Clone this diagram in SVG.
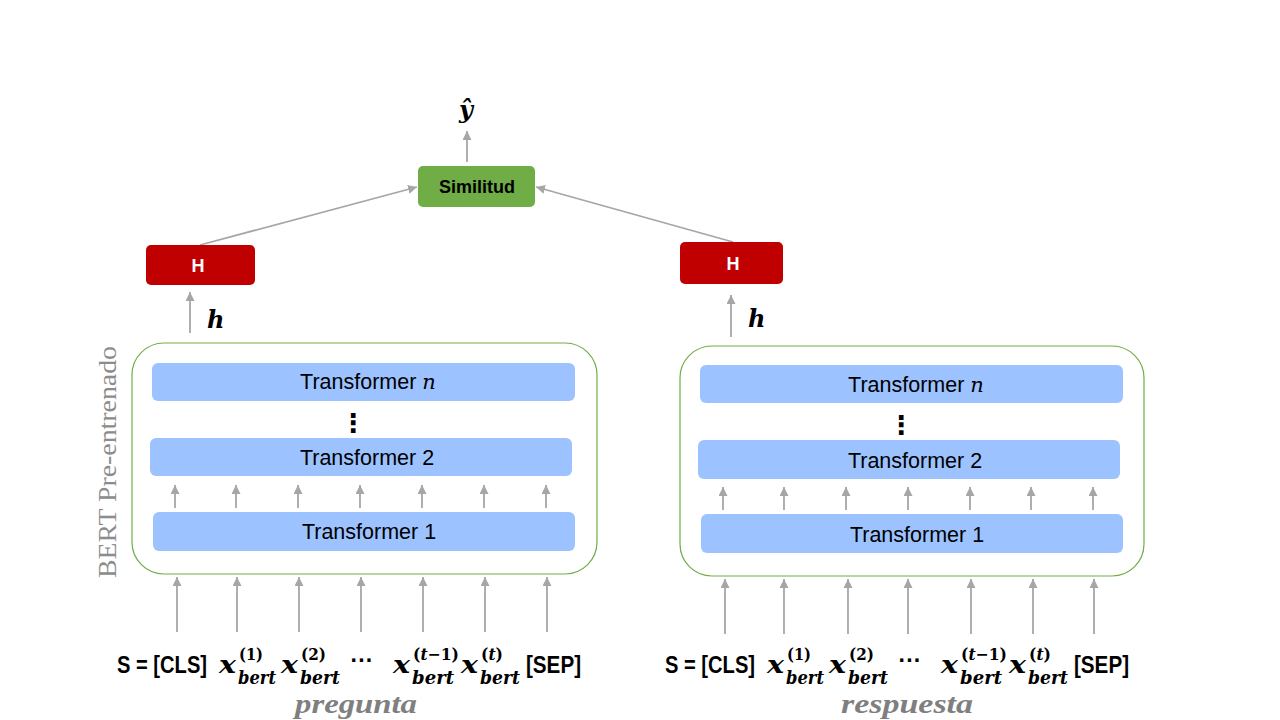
<svg xmlns="http://www.w3.org/2000/svg" width="1280" height="720" viewBox="0 0 1280 720">
<style>
.conn line{stroke:#A6A6A6;stroke-width:1.8;fill:none}
.tf{fill:#9CC3FF}
.panel{fill:none;stroke:#70AD47;stroke-width:1.2}
.tft{font-family:"Liberation Sans",Arial,sans-serif;font-size:21.5px;fill:#000;text-anchor:middle}
.ni{font-family:"DejaVu Serif",serif;font-style:italic}
.dots{font-family:"DejaVu Sans",sans-serif;font-weight:bold;font-size:26px;text-anchor:middle}
.seq{font-family:"Liberation Sans",Arial,sans-serif;font-weight:bold;font-size:23px;fill:#000}
.mx{font-family:"DejaVu Serif",serif;font-weight:bold;font-style:italic;font-size:24px;fill:#000}
.sup{font-family:"DejaVu Serif",serif;font-weight:bold;font-size:17px;fill:#000}
.sub{font-family:"DejaVu Serif",serif;font-weight:bold;font-style:italic;font-size:19px;fill:#000}
.it{font-style:italic}
.lbl{font-family:"Liberation Serif",serif;font-weight:bold;font-style:italic;font-size:27px;fill:#7F7F7F}
.bert{font-family:"Liberation Serif",serif;font-size:25px;fill:#8C8C8C;text-anchor:middle}
.hb{fill:#C00000}
.ht{font-family:"Liberation Sans",Arial,sans-serif;font-weight:bold;font-size:18px;fill:#fff;text-anchor:middle}
.sim{fill:#70AD47}
.simt{font-family:"Liberation Sans",Arial,sans-serif;font-weight:bold;font-size:18px;fill:#000;text-anchor:middle}
.var{font-family:"DejaVu Serif",serif;font-weight:bold;font-style:italic;font-size:24px;fill:#000}
</style>
<defs>
<marker id="ah" viewBox="0 0 10 10" refX="10" refY="5" markerWidth="9" markerHeight="9" markerUnits="userSpaceOnUse" orient="auto">
<path d="M0,0 L10,5 L0,10 z" fill="#A6A6A6"/>
</marker>
</defs>
<rect width="1280" height="720" fill="#fff"/>

<!-- Connectors -->
<g id="connectors" class="conn">
<line x1="177" y1="632" x2="177" y2="577" marker-end="url(#ah)"/>
<line x1="237" y1="632" x2="237" y2="577" marker-end="url(#ah)"/>
<line x1="299" y1="632" x2="299" y2="577" marker-end="url(#ah)"/>
<line x1="361" y1="632" x2="361" y2="577" marker-end="url(#ah)"/>
<line x1="423" y1="632" x2="423" y2="577" marker-end="url(#ah)"/>
<line x1="485" y1="632" x2="485" y2="577" marker-end="url(#ah)"/>
<line x1="547" y1="632" x2="547" y2="577" marker-end="url(#ah)"/>
<line x1="175" y1="508" x2="175" y2="485" marker-end="url(#ah)"/>
<line x1="236" y1="508" x2="236" y2="485" marker-end="url(#ah)"/>
<line x1="298" y1="508" x2="298" y2="485" marker-end="url(#ah)"/>
<line x1="360" y1="508" x2="360" y2="485" marker-end="url(#ah)"/>
<line x1="422" y1="508" x2="422" y2="485" marker-end="url(#ah)"/>
<line x1="484" y1="508" x2="484" y2="485" marker-end="url(#ah)"/>
<line x1="546" y1="508" x2="546" y2="485" marker-end="url(#ah)"/>
<line x1="190" y1="333" x2="190" y2="292" marker-end="url(#ah)"/>
<line x1="200" y1="245" x2="417" y2="187" marker-end="url(#ah)"/>
<line x1="725" y1="634" x2="725" y2="579" marker-end="url(#ah)"/>
<line x1="784" y1="634" x2="784" y2="579" marker-end="url(#ah)"/>
<line x1="848" y1="634" x2="848" y2="579" marker-end="url(#ah)"/>
<line x1="908" y1="634" x2="908" y2="579" marker-end="url(#ah)"/>
<line x1="971" y1="634" x2="971" y2="579" marker-end="url(#ah)"/>
<line x1="1033" y1="634" x2="1033" y2="579" marker-end="url(#ah)"/>
<line x1="1094" y1="634" x2="1094" y2="579" marker-end="url(#ah)"/>
<line x1="723" y1="510" x2="723" y2="487" marker-end="url(#ah)"/>
<line x1="784" y1="510" x2="784" y2="487" marker-end="url(#ah)"/>
<line x1="846" y1="510" x2="846" y2="487" marker-end="url(#ah)"/>
<line x1="908" y1="510" x2="908" y2="487" marker-end="url(#ah)"/>
<line x1="970" y1="510" x2="970" y2="487" marker-end="url(#ah)"/>
<line x1="1031" y1="510" x2="1031" y2="487" marker-end="url(#ah)"/>
<line x1="1093" y1="510" x2="1093" y2="487" marker-end="url(#ah)"/>
<line x1="731" y1="337" x2="731" y2="295" marker-end="url(#ah)"/>
<line x1="733" y1="242" x2="536" y2="187" marker-end="url(#ah)"/>
<line x1="467" y1="162" x2="467" y2="131" marker-end="url(#ah)"/>
</g>

<!-- Left BERT panel -->
<g id="bert-left">
<rect class="panel" x="132" y="343" width="465" height="231" rx="32"/>
<text class="bert" transform="translate(116,462) rotate(-90)" textLength="232" lengthAdjust="spacingAndGlyphs">BERT Pre-entrenado</text>
</g>
<g id="tf-n-left">
<rect class="tf" x="152" y="363" width="423" height="38" rx="6"/>
<text class="tft" x="368" y="389">Transformer <tspan class="ni" font-size="21">n</tspan></text>
</g>
<text class="dots" x="353" y="432">⋮</text>
<g id="tf-2-left">
<rect class="tf" x="150" y="438" width="422" height="38" rx="6"/>
<text class="tft" x="367" y="465">Transformer 2</text>
</g>
<g id="tf-1-left">
<rect class="tf" x="153" y="512" width="422" height="39" rx="6"/>
<text class="tft" x="369" y="539">Transformer 1</text>
</g>

<!-- Right BERT panel -->
<g id="bert-right">
<rect class="panel" x="680" y="346" width="464" height="230" rx="32"/>
</g>
<g id="tf-n-right">
<rect class="tf" x="700" y="365" width="423" height="38" rx="6"/>
<text class="tft" x="916" y="392">Transformer <tspan class="ni" font-size="21">n</tspan></text>
</g>
<text class="dots" x="901" y="434">⋮</text>
<g id="tf-2-right">
<rect class="tf" x="698" y="440" width="422" height="39" rx="6"/>
<text class="tft" x="915" y="468">Transformer 2</text>
</g>
<g id="tf-1-right">
<rect class="tf" x="701" y="514" width="422" height="39" rx="6"/>
<text class="tft" x="917" y="542">Transformer 1</text>
</g>

<!-- H nodes -->
<g id="H-left">
<rect class="hb" x="146" y="245" width="109" height="40" rx="5"/>
<text class="ht" x="198" y="272">H</text>
</g>
<text class="var" x="207" y="328">h</text>
<g id="H-right">
<rect class="hb" x="680" y="242" width="103" height="42" rx="5"/>
<text class="ht" x="733" y="270">H</text>
</g>
<text class="var" x="748" y="327">h</text>

<!-- Similitud -->
<g id="similitud">
<rect class="sim" x="418" y="166" width="117" height="41" rx="5"/>
<text class="simt" x="477" y="193" textLength="76" lengthAdjust="spacingAndGlyphs">Similitud</text>
</g>
<text class="var" x="466" y="118" text-anchor="middle">ŷ</text>

<!-- Left sequence -->
<g id="seq-left">
<text class="seq" x="117" y="673" textLength="90" lengthAdjust="spacingAndGlyphs">S = [CLS]</text>
<text class="mx" x="219" y="673" textLength="17" lengthAdjust="spacingAndGlyphs">x</text>
<text class="sup" x="239" y="660" textLength="24" lengthAdjust="spacingAndGlyphs">(1)</text>
<text class="sub" x="238" y="684" textLength="38" lengthAdjust="spacingAndGlyphs">bert</text>
<text class="mx" x="281" y="673" textLength="17" lengthAdjust="spacingAndGlyphs">x</text>
<text class="sup" x="301" y="660" textLength="25" lengthAdjust="spacingAndGlyphs">(2)</text>
<text class="sub" x="300" y="684" textLength="40" lengthAdjust="spacingAndGlyphs">bert</text>
<text class="seq" x="362" y="668" text-anchor="middle">···</text>
<text class="mx" x="393" y="673" textLength="17" lengthAdjust="spacingAndGlyphs">x</text>
<text class="sup" x="413" y="660" textLength="46" lengthAdjust="spacingAndGlyphs">(<tspan class="it">t</tspan>−1)</text>
<text class="sub" x="412" y="684" textLength="42" lengthAdjust="spacingAndGlyphs">bert</text>
<text class="mx" x="461" y="673" textLength="17" lengthAdjust="spacingAndGlyphs">x</text>
<text class="sup" x="481" y="660" textLength="22" lengthAdjust="spacingAndGlyphs">(<tspan class="it">t</tspan>)</text>
<text class="sub" x="480" y="684" textLength="40" lengthAdjust="spacingAndGlyphs">bert</text>
<text class="seq" x="526" y="673" textLength="55" lengthAdjust="spacingAndGlyphs">[SEP]</text>
<text class="lbl" x="295" y="713" textLength="122" lengthAdjust="spacingAndGlyphs">pregunta</text>
</g>

<!-- Right sequence -->
<g id="seq-right">
<text class="seq" x="665" y="673" textLength="90" lengthAdjust="spacingAndGlyphs">S = [CLS]</text>
<text class="mx" x="767" y="673" textLength="17" lengthAdjust="spacingAndGlyphs">x</text>
<text class="sup" x="787" y="660" textLength="24" lengthAdjust="spacingAndGlyphs">(1)</text>
<text class="sub" x="786" y="684" textLength="38" lengthAdjust="spacingAndGlyphs">bert</text>
<text class="mx" x="829" y="673" textLength="17" lengthAdjust="spacingAndGlyphs">x</text>
<text class="sup" x="849" y="660" textLength="25" lengthAdjust="spacingAndGlyphs">(2)</text>
<text class="sub" x="848" y="684" textLength="40" lengthAdjust="spacingAndGlyphs">bert</text>
<text class="seq" x="910" y="668" text-anchor="middle">···</text>
<text class="mx" x="941" y="673" textLength="17" lengthAdjust="spacingAndGlyphs">x</text>
<text class="sup" x="961" y="660" textLength="46" lengthAdjust="spacingAndGlyphs">(<tspan class="it">t</tspan>−1)</text>
<text class="sub" x="960" y="684" textLength="42" lengthAdjust="spacingAndGlyphs">bert</text>
<text class="mx" x="1009" y="673" textLength="17" lengthAdjust="spacingAndGlyphs">x</text>
<text class="sup" x="1029" y="660" textLength="22" lengthAdjust="spacingAndGlyphs">(<tspan class="it">t</tspan>)</text>
<text class="sub" x="1028" y="684" textLength="40" lengthAdjust="spacingAndGlyphs">bert</text>
<text class="seq" x="1074" y="673" textLength="55" lengthAdjust="spacingAndGlyphs">[SEP]</text>
<text class="lbl" x="841" y="713" textLength="132" lengthAdjust="spacingAndGlyphs">respuesta</text>
</g>
</svg>
